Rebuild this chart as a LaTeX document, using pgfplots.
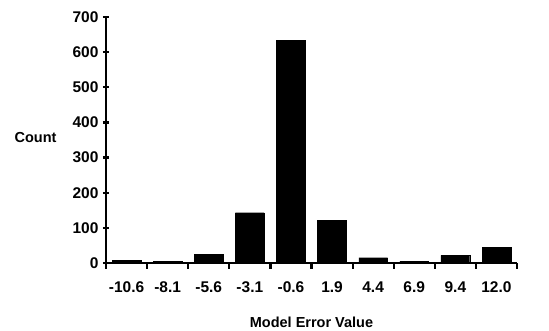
\documentclass[border=0pt]{standalone}
\usepackage{pgfplots}
\pgfplotsset{compat=1.18}
\usepackage{fontspec}
\setmainfont{Liberation Sans}
\begin{document}
\begin{tikzpicture}
\begin{axis}[
  name=ax, at={(0,0)}, anchor=south west,
  scale only axis, width=411pt, height=246pt,
  ymin=0, ymax=700, xmin=0.5, xmax=10.5,
  axis x line=bottom, axis y line=left,
  axis line style={-, line width=2.6pt},
  ytick={0,100,...,700},
  xtick={0.5,1.5,...,10.5},
  x tick label as interval,
  xticklabels={-10.6,-8.1,-5.6,-3.1,-0.6,1.9,4.4,6.9,9.4,12.0},
  tick align=center, major tick length=6pt,
  tick style={line width=2.2pt, black},
  ticklabel style={font=\fontsize{15.5}{17}\selectfont\bfseries},
  yticklabel style={xshift=-1pt},
  xticklabel style={yshift=-9pt},
  /pgf/number format/assume math mode=true,
  xlabel={Model Error Value},
  xlabel style={font=\fontsize{14.5}{17}\selectfont\bfseries, at={(axis description cs:0.5,0)}, anchor=center, yshift=-59pt},
  ylabel={Count},
  ylabel style={font=\fontsize{14.5}{17}\selectfont\bfseries, rotate=-90, at={(axis description cs:0,0.512)}, anchor=east, xshift=-46pt},
  ybar, bar width=0.7,
]
\addplot[fill=black, draw=black] coordinates {
 (1,7) (2,5) (3,25) (4,143) (5,633) (6,122) (7,15) (8,5) (9,22) (10,45)};
\end{axis}
\path[use as bounding box] (-106pt,-66pt) rectangle (443pt,263pt);
\end{tikzpicture}
\end{document}
